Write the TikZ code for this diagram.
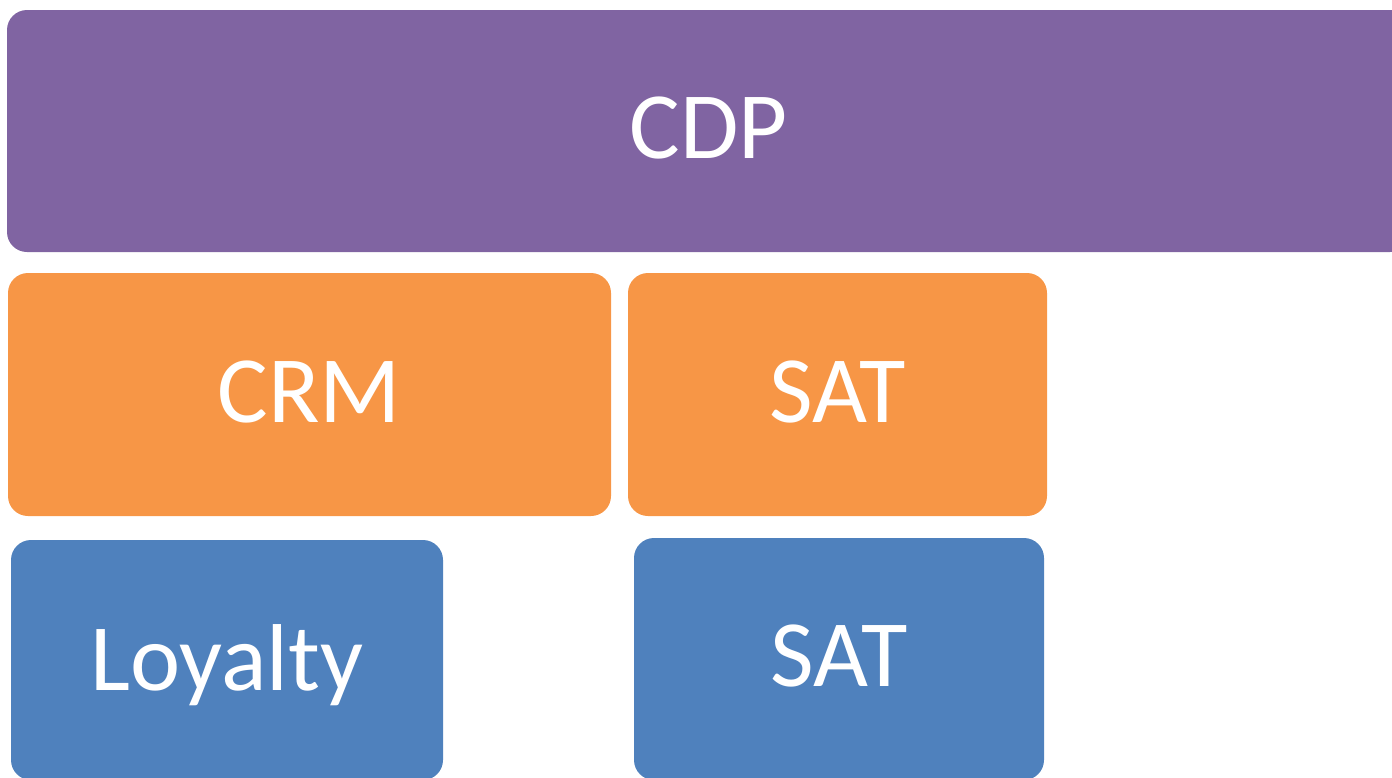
\documentclass[tikz,border=0pt]{standalone}
\usepackage{fontspec}
\setmainfont{Carlito}
\definecolor{cdppurple}{HTML}{8064A2}
\definecolor{midorange}{HTML}{F79646}
\definecolor{lowblue}{HTML}{4F81BD}
\tikzset{
  block/.style={rounded corners=20pt, draw=none, text=white, inner sep=0pt,
    font=\fontsize{95}{110}\selectfont, text height=55pt, text depth=0pt},
}
\begin{document}
\begin{tikzpicture}[x=1pt,y=-1pt]
  \useasboundingbox (0,0) rectangle (1392,777);
  \clip (0,0) rectangle (1392,777);
  % top layer
  \node[block, fill=cdppurple, minimum width=1403pt, minimum height=242pt] (cdp) at (708.5,131) {CDP};
  % middle layer
  \node[block, fill=midorange, minimum width=603pt, minimum height=243pt] (crm) at (309.5,394.5) {CRM};
  \node[block, fill=midorange, minimum width=419pt, minimum height=243pt] (satmid) at (837.5,394.5) {SAT};
  % bottom layer
  \node[block, fill=lowblue, minimum width=432pt, minimum height=240pt, text height=60pt] (loyalty) at (227,660) {Loyalty};
  \node[block, fill=lowblue, minimum width=410pt, minimum height=242pt] (satlow) at (839,659) {SAT};
\end{tikzpicture}
\end{document}
